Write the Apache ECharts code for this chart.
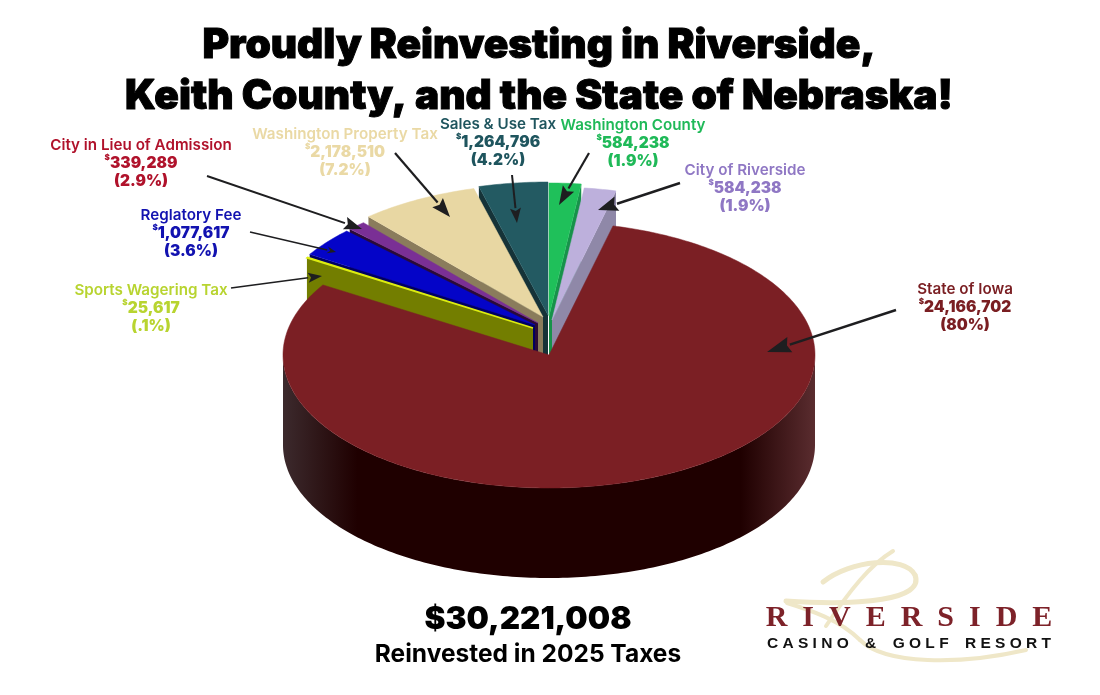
<!DOCTYPE html>
<html lang="en">

<head>
	<meta charset="UTF-8" />
	<title>Riverside Taxes</title>
	<script src="https://cdn.jsdelivr.net/npm/echarts@6/dist/echarts.min.js"></script>
	<style>
		html, body { margin: 0; padding: 0; background: #fff; }
		#main { width: 1100px; height: 695px; }
	</style>
</head>

<body>
	<div id="main"></div>

	<script type="text/javascript">
		// clockwise from 12 o'clock
		const categories = ['Washington County', 'City of Riverside', 'State of Iowa', 'Sports Wagering Tax', 'Reglatory Fee', 'City in Lieu of Admission', 'Washington Property Tax', 'Sales & Use Tax'];
		const amounts = [584238, 584238, 24166702, 25617, 1077617, 339289, 2178510, 1264796];
		const percentLabels = ['1.9%', '1.9%', '80%', '.1%', '3.6%', '2.9%', '7.2%', '4.2%'];
		const totalLabel = '$30,221,008';

		const topColors = ['#1fc05a', '#bdb0dc', '#7b1f24', '#dcec10', '#0404c8', '#7a2f95', '#e8d7a3', '#235a62'];
		const wallColors = ['#17924a', '#8f88a8', '#000000', '#737e00', '#000060', '#2a0a38', '#8a7c5c', '#163338'];
		const labelColors = ['#1fb958', '#8f77c4', '#7a1e22', '#b8d430', '#1212b0', '#b0122b', '#ead9a5', '#1f555e'];

		// pie geometry
		const cx = 549, cy = 355, rx = 266, ry = 133, depth = 90;
		const offsets = [[0, -39], [3, -35], [0, 0], [-16, -27], [-14, -30], [-11, -32], [-6, -38], [-1, -40]];
		const paintOrder = [6, 7, 8, 5, 4, 3, 2, 1];

		// label centre x, top y
		const labelPos = [[633, 116], [745, 161], [965, 280], [151, 281], [191, 206], [141, 136], [345, 125], [498, 115]];
		// callouts: from x, y, to x, y, line width, head length, head width
		const callouts = [
			[231, 288, 322, 276, 1.6, 14, 10],
			[250, 232, 336, 252, 1.4, 9, 7],
			[207, 176, 362, 229, 2, 18, 13],
			[395, 153, 450, 217, 2.2, 19, 14],
			[512, 175, 517, 223, 2, 15, 11],
			[589, 153, 559, 205, 2.2, 19, 13],
			[680, 183, 598, 210, 2.4, 20, 15],
			[896, 310, 767, 352, 2.4, 24, 16],
		];
		// script R of the logo: x1, y1, cp1x, cp1y, cp2x, cp2y, x2, y2, width
		const logoCurves = [
			[893, 551, 870, 565, 850, 590, 826, 626, 4],
			[823, 582, 850, 560, 905, 555, 915, 575, 5],
			[915, 575, 925, 600, 860, 606, 786, 601, 5],
			[787, 603, 810, 610, 840, 620, 860, 640, 4],
			[860, 640, 885, 665, 960, 665, 1026, 650, 4],
		];

		const total = amounts.reduce((s, v) => s + v, 0);
		const startAngles = [];
		amounts.reduce((s, v, i) => {
			startAngles[i] = s;
			return s + (v / total) * 360;
		}, 0);

		const point = (x0, y0, deg) => {
			const a = (deg * Math.PI) / 180;
			return [x0 + rx * Math.sin(a), y0 - ry * Math.cos(a)];
		};
		const arc = (x0, y0, from, to) => {
			const pts = [];
			const steps = Math.max(2, Math.ceil(Math.abs(to - from)));
			for (let i = 0; i <= steps; i++) {
				pts.push(point(x0, y0, from + ((to - from) * i) / steps));
			}
			return pts;
		};

		const renderSlice = (params, api) => {
			const i = api.value(0);
			const sweep = (api.value(1) / total) * 360;
			const from = startAngles[i];
			const to = from + sweep;
			const x0 = cx + offsets[i][0];
			const y0 = cy + offsets[i][1];
			const z2 = paintOrder[i];
			const children = [];

			if (sweep > 180) {
				// round side, only the front half shows
				const front = arc(x0, y0, Math.max(from, 90), Math.min(to, 270));
				const lower = front.map(p => [p[0], p[1] + depth]).reverse();
				children.push({
					type: 'polygon',
					z2: z2,
					shape: { points: front.concat(lower) },
					style: {
						fill: new echarts.graphic.LinearGradient(0, 0, 1, 0, [
							{ offset: 0, color: '#3c2a2d' },
							{ offset: 0.14, color: '#1f0000' },
							{ offset: 0.86, color: '#1f0000' },
							{ offset: 1, color: '#5a2c2f' },
						]),
					},
				});
			} else {
				// radial face towards the viewer
				const edge = point(x0, y0, (from + to) / 2 > 180 ? from : to);
				children.push({
					type: 'polygon',
					z2: z2,
					shape: { points: [[x0, y0], edge, [edge[0], edge[1] + depth], [x0, y0 + depth]] },
					style: { fill: wallColors[i] },
				});
			}
			children.push({
				type: 'polygon',
				z2: z2,
				shape: { points: [[x0, y0]].concat(arc(x0, y0, from, to)) },
				style: { fill: topColors[i], stroke: topColors[i], lineWidth: sweep < 1 ? 1.5 : 0.5 },
			});
			return { type: 'group', children };
		};

		const labelFont = 'Inter';
		const labelElements = categories.map((name, i) => {
			const rich = {
				n: { fill: labelColors[i], fontFamily: labelFont, fontSize: 15.2, fontWeight: 600, lineHeight: 18 },
				s: { fill: labelColors[i], fontFamily: labelFont, fontSize: 8, fontWeight: 900, lineHeight: 18, verticalAlign: 'top' },
				a: { fill: labelColors[i], fontFamily: labelFont, fontSize: 15.5, fontWeight: 900, lineHeight: 18 },
			};
			return {
				type: 'text',
				z: 50,
				x: labelPos[i][0],
				y: labelPos[i][1],
				style: {
					text: `{n|${name}}\n{s|$}{a|${amounts[i].toLocaleString('en-US')}}\n{a|(${percentLabels[i]})}`,
					align: 'center',
					rich,
				},
			};
		});

		const calloutElements = [];
		callouts.forEach(c => {
			const [x1, y1, x2, y2, w, len, wide] = c;
			const d = Math.hypot(x2 - x1, y2 - y1);
			const ux = (x2 - x1) / d;
			const uy = (y2 - y1) / d;
			const bx = x2 - ux * len;
			const by = y2 - uy * len;
			calloutElements.push({
				type: 'line',
				z: 60,
				shape: { x1, y1, x2: bx, y2: by },
				style: { stroke: '#1e1e20', lineWidth: w },
			});
			calloutElements.push({
				type: 'polygon',
				z: 60,
				shape: {
					points: [
						[x2, y2],
						[bx - (uy * wide) / 2, by + (ux * wide) / 2],
						[bx + ux * 3, by + uy * 3],
						[bx + (uy * wide) / 2, by - (ux * wide) / 2],
					],
				},
				style: { fill: '#1e1e20' },
			});
		});

		const logoElements = logoCurves.map(c => ({
			type: 'bezierCurve',
			z: 10,
			shape: { x1: c[0], y1: c[1], cpx1: c[2], cpy1: c[3], cpx2: c[4], cpy2: c[5], x2: c[6], y2: c[7] },
			style: { stroke: '#efe7c8', fill: 'none', lineCap: 'round', lineWidth: c[8] },
		}));
		logoElements.push(
			{
				type: 'text', z: 11, x: 909, y: 618,
				style: { text: 'R\u2002I\u2002V\u2002E\u2002R\u2002S\u2002I\u2002D\u2002E', align: 'center', verticalAlign: 'middle', fill: '#7d2229', font: 'bold 30px "Liberation Serif"' },
			},
			{
				type: 'text', z: 11, x: 909, y: 644,
				style: { text: 'CASINO\u2002&\u2002GOLF\u2002RESORT'.split('').join(' '), align: 'center', verticalAlign: 'middle', fill: '#111', font: 'bold 15.5px "Liberation Sans"' },
			}
		);

		const footerElements = [
			{
				type: 'text', z: 20, x: 528, y: 620,
				style: { text: totalLabel, align: 'center', verticalAlign: 'middle', fill: '#000', font: '900 31.5px Inter' },
			},
			{
				type: 'text', z: 20, x: 528, y: 655,
				style: { text: 'Reinvested in 2025 Taxes', align: 'center', verticalAlign: 'middle', fill: '#000', font: '700 24.5px Inter' },
			},
		];

		const mainChart = echarts.init(document.getElementById('main'), null, { renderer: 'canvas' });
		mainChart.setOption({
			animation: false,
			backgroundColor: '#fff',
			title: {
				text: 'Proudly Reinvesting in Riverside,\nKeith County, and the State of Nebraska!',
				left: 534,
				top: 15,
				textAlign: 'center',
				textStyle: { fontFamily: 'Inter', fontSize: 40.6, fontWeight: 900, lineHeight: 51, color: '#000', textBorderColor: '#000', textBorderWidth: 1 },
			},
			graphic: { elements: labelElements.concat(calloutElements, logoElements, footerElements) },
			series: [
				{
					type: 'custom',
					coordinateSystem: 'none',
					renderItem: renderSlice,
					data: amounts.map((v, i) => [i, v]),
					silent: true,
				},
			],
		});
	</script>
</body>

</html>
